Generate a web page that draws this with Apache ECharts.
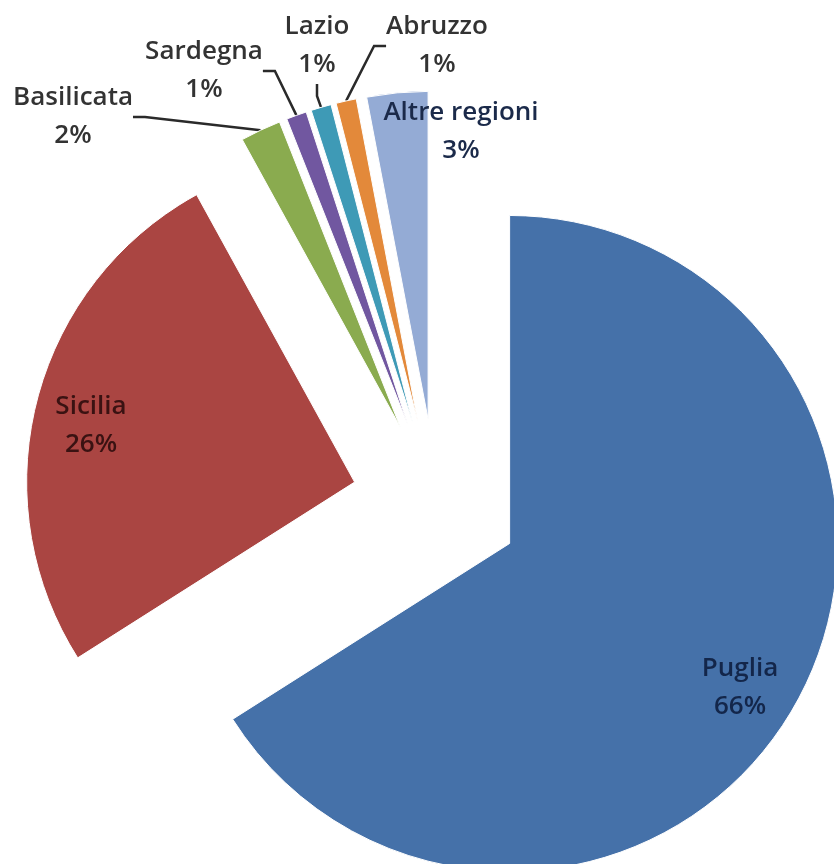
<!DOCTYPE html>
<html>
<head>
<meta charset="utf-8">
<script src="https://cdn.jsdelivr.net/npm/echarts@6/dist/echarts.min.js"></script>
<style>
html,body{margin:0;padding:0;background:#fff;}
#chart{width:834px;height:864px;}
</style>
</head>
<body>
<div id="chart"></div>
<script>
// Data
const regions = ['Puglia', 'Sicilia', 'Basilicata', 'Sardegna', 'Lazio', 'Abruzzo', 'Altre regioni'];
const shares = [66, 26, 2, 1, 1, 1, 3];

// Styling / layout (kept apart from data)
const sliceColors = ['#4571A9', '#AA4542', '#8AAB4F', '#7157A0', '#3E9AB6', '#E3893A', '#94ABD5'];
const labelColors = ['#13264a', '#3a1212', '#333333', '#333333', '#333333', '#333333', '#1b2a4a'];
const labelAnchor = [[740, 688], [91, 426], [73, 117], [204, 71], [317, 46], [437, 46], [461, 132]];
const showGuide = [false, false, true, true, true, true, false];
const pieCenter = [436, 503];
const pieRadius = 328;
const explode = 84;

const chart = echarts.init(document.getElementById('chart'), null, {renderer: 'canvas'});

const total = shares.reduce((a, b) => a + b, 0);
let cum = 0;
const series = regions.map((region, i) => {
  // exploded slice: shift the centre along the slice bisector
  const mid = (cum + shares[i] / 2) / total * 2 * Math.PI;
  cum += shares[i];
  const cx = pieCenter[0] + explode * Math.sin(mid);
  const cy = pieCenter[1] - explode * Math.cos(mid);
  return {
    type: 'pie',
    silent: true,
    center: [cx, cy],
    radius: [0, pieRadius],
    startAngle: 90,
    clockwise: true,
    percentPrecision: 0,
    avoidLabelOverlap: false,
    emphasis: {disabled: true},
    label: {
      show: false,
      position: 'outside',
      formatter: '{b}\n{d}%',
      fontFamily: 'Open Sans',
      fontWeight: 600,
      fontSize: 26,
      lineHeight: 38,
      align: 'center'
    },
    labelLine: {
      show: false,
      length: 10,
      length2: 12,
      lineStyle: {color: '#2a2a2a', width: 2.5}
    },
    labelLayout: function (params) {
      if (params.dataIndex !== i) return {};
      const p = labelAnchor[i];
      return {x: p[0], y: p[1], align: 'center', verticalAlign: 'middle'};
    },
    data: regions.map((name, j) => ({
      name: name,
      value: shares[j],
      itemStyle: j === i
        ? {color: sliceColors[j], borderColor: '#ffffff', borderWidth: 1}
        : {color: 'rgba(0,0,0,0)', borderWidth: 0},
      label: {show: j === i, color: labelColors[j]},
      labelLine: {show: j === i && showGuide[j]}
    }))
  };
});

chart.setOption({
  animation: false,
  backgroundColor: '#ffffff',
  series: series
});
</script>
</body>
</html>
